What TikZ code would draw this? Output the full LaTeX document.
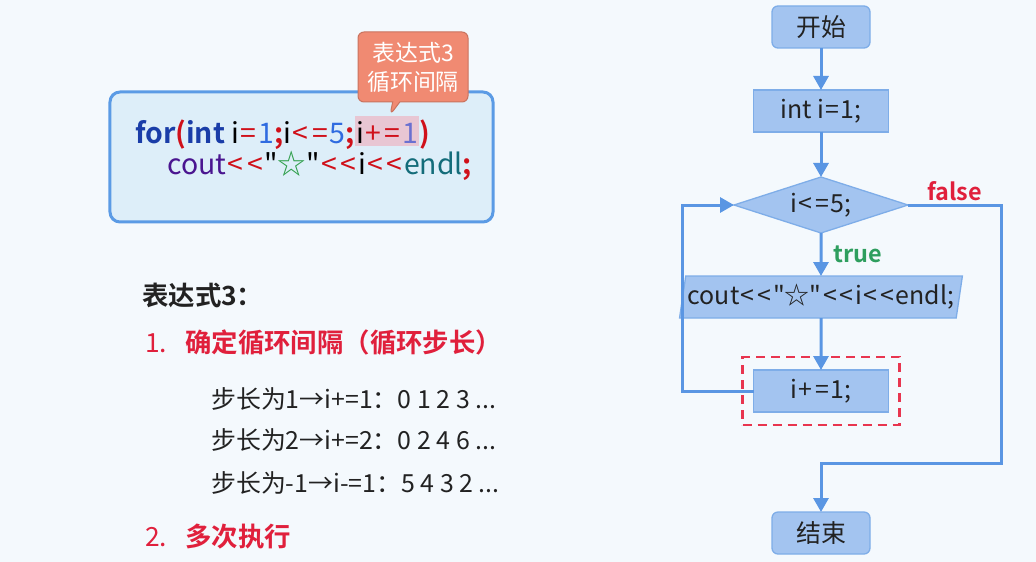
\documentclass[tikz,border=0pt]{standalone}
\usepackage{fontspec}
\setmainfont{Noto Sans CJK SC}[BoldFont={Noto Sans CJK SC Bold}, Ligatures=TeXOff]
\usetikzlibrary{positioning,arrows.meta,fit,shapes.geometric,shapes.callouts}
\definecolor{bgpale}{HTML}{F4F9FD}
\definecolor{ink}{HTML}{222222}
\definecolor{codefill}{HTML}{DDEEF9}
\definecolor{codeedge}{HTML}{5B9BE5}
\definecolor{tipfill}{HTML}{F08A72}
\definecolor{tipedge}{HTML}{C9735F}
\definecolor{hlpink}{HTML}{E8C6D3}
\definecolor{kwblue}{HTML}{1A3DA8}
\definecolor{opred}{HTML}{D0101A}
\definecolor{numblue}{HTML}{2F6BE0}
\definecolor{numhl}{HTML}{6A70D0}
\definecolor{coutpurple}{HTML}{4A1590}
\definecolor{stargreen}{HTML}{2E9E4A}
\definecolor{endlteal}{HTML}{136C7A}
\definecolor{itemred}{HTML}{E0203C}
\definecolor{flowfill}{HTML}{A3C4F0}
\definecolor{flowedge}{HTML}{7EADE8}
\definecolor{arrowblue}{HTML}{5A96E3}
\definecolor{dashred}{HTML}{E8354F}
\definecolor{truegreen}{HTML}{2E9E5E}
\newcommand\flowfont{\fontsize{25}{29}\selectfont}
\newcommand\codefont{\fontsize{28.5}{33}\selectfont}
\newcommand\notefont{\fontsize{26.5}{31}\selectfont}
\newcommand\hlbox[1]{{\setlength\fboxsep{0pt}\colorbox{hlpink}{\rule[-3bp]{0pt}{30bp}\hspace{1.5bp}#1\hspace{1.5bp}}}}
\newcommand\op[1]{\hspace{1.7bp}{\color{opred}#1}\hspace{1.7bp}}
\newcommand\fop[1]{\hspace{1.5bp}#1\hspace{1.5bp}}

\begin{document}
\begin{tikzpicture}[
  x=1bp, y=-1bp,
  codebox/.style={rounded corners=10bp, draw=codeedge, line width=3bp, fill=codefill, minimum width=383bp, minimum height=130bp},
  codeline/.style={font=\codefont, inner sep=0pt, anchor=west},
  tipnote/.style={rectangle callout, rounded corners=6bp, draw=tipedge, line width=1bp, fill=tipfill, text=white, font=\fontsize{23}{29}\selectfont, align=center, minimum width=110bp, minimum height=70bp, inner sep=2bp},
  headtext/.style={font=\notefont\bfseries, text=ink, anchor=west, inner sep=0pt},
  itemtext/.style={font=\notefont, text=itemred, anchor=west, inner sep=0pt},
  steptext/.style={font=\fontsize{25}{29}\selectfont, text=ink, anchor=west, inner sep=0pt},
  flow/.style={draw=flowedge, line width=1.3bp, fill=flowfill, text=ink, font=\flowfont, minimum height=42bp, inner sep=2bp, outer sep=0pt},
  term/.style={flow, rounded corners=6bp, minimum width=98bp},
  proc/.style={flow, minimum width=135bp},
  cond/.style={flow, diamond, aspect=3, minimum width=174bp, minimum height=56bp, inner sep=0bp},
  io/.style={flow, trapezium, trapezium left angle=78, trapezium right angle=102, trapezium stretches=true, minimum width=279bp},
  frame/.style={draw=dashred, dash pattern=on 9bp off 6bp, line width=2.5bp, inner xsep=11bp, inner ysep=13bp},
  lbl/.style={font=\fontsize{23.5}{27}\selectfont\bfseries, inner sep=1bp},
  arr/.style={-{Triangle[length=14bp,width=15bp]}, line width=3bp, draw=arrowblue},
]
\useasboundingbox[fill=bgpale] (0,0) rectangle (1036,562);

% code panel
\node[codebox] (code) at (301.5,157) {};
\node[codeline] (line1) at (135,133) {{\color{kwblue}\bfseries for}{\color{opred}\bfseries(}{\color{kwblue}\bfseries int} i\op{=}{\color{numblue}1}{\color{opred}\bfseries;}i\op{<}\op{=}{\color{numblue}5}{\color{opred}\bfseries;}\hlbox{i\op{+}\op{=}{\color{numhl}1}}{\color{opred}\bfseries)}};
\node[codeline] (line2) at (167,166) {{\color{coutpurple}cout}\op{<}\op{<}"{\color{stargreen}☆}"\op{<}\op{<}i\op{<}\op{<}{\color{endlteal}endl}{\color{opred}\bfseries;}};
\coordinate (tip) at (390,115);
\node[tipnote, callout absolute pointer={(tip)}] (note) at (413,67) {表达式3\\循环间隔};

% notes
\node[headtext] (head) at (142,295) {表达式3：};
\node[itemtext] (item1) at (145,343) {\makebox[40bp][l]{1.}\textbf{确定循环间隔（循环步长）}};
\foreach \n/\y/\t in {1/399/{步长为1→i+=1：0 1 2 3 ...}, 2/440/{步长为2→i+=2：0 2 4 6 ...}, 3/483/{步长为-1→i-=1：5 4 3 2 ...}}
  \node[steptext] (step\n) at (211,\y) {\t};
\node[itemtext] (item2) at (145,537) {\makebox[40bp][l]{2.}\textbf{多次执行}};

% flowchart
\node[term] (start) at (821,27) {开始};
\node[proc, below=42bp of start] (init) {int i\fop{=}1;};
\node[cond, below=45bp of init] (test) {i\fop{<}\fop{=}5;};
\node[io, below=43bp of test] (body) {cout\fop{<}\fop{<}"☆"\fop{<}\fop{<}i\fop{<}\fop{<}endl;};
\node[proc, below=52bp of body] (inc) {i\fop{+}\fop{=}1;};
\node[term, below=100bp of inc] (stop) {结束};
\node[frame, fit=(inc)] (incframe) {};
\coordinate (fr) at (1001,463);
\draw[arr] (start) -- (init);
\draw[arr] (init) -- (test);
\draw[arr] (test) -- node[lbl, text=truegreen, right=10bp]{true} (body);
\draw[arr] (body) -- (inc);
\draw[arr] (inc.west) -- ++(-71,0) |- (test.west);
\draw[arr] (test.east) -| node[lbl, text=itemred, above=2bp, pos=.25]{false} (fr) -- (fr -| stop) -- (stop);
\end{tikzpicture}
\end{document}
